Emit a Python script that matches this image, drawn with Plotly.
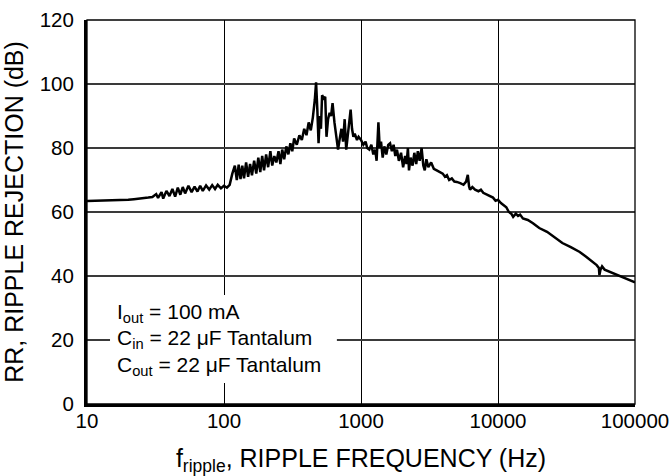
import plotly.graph_objects as go

# Ripple frequency (Hz) and ripple rejection (dB)
freq = [10, 12, 14, 16, 18, 20, 22, 24, 26, 28, 30, 32, 33, 35, 36, 38, 40, 42, 44, 46, 48,
        50, 52, 55, 58, 61, 64, 67, 70, 74, 78, 82, 86, 90, 95, 100, 105, 110, 115, 120,
        124, 128, 132, 136, 140, 145, 150, 155, 160, 166, 172, 178, 184, 190, 196, 203,
        210, 218, 225, 233, 241, 250, 258, 266, 275, 285, 295, 305, 315, 325, 340, 355,
        370, 385, 400, 415, 430, 445, 460, 470, 480, 490, 500, 510, 520, 535, 548, 560,
        575, 590, 605, 620, 640, 660, 680, 700, 720, 740, 760, 780, 800, 820, 840, 860,
        880, 900, 935, 960, 1000, 1040, 1080, 1110, 1150, 1190, 1230, 1270, 1300, 1340,
        1370, 1400, 1440, 1480, 1530, 1580, 1630, 1680, 1730, 1780, 1830, 1890, 1960,
        2030, 2100, 2150, 2200, 2240, 2300, 2380, 2450, 2530, 2600, 2680, 2770, 2850,
        2920, 3000, 3100, 3250, 3400, 3570, 3750, 3950, 4100, 4240, 4400, 4600, 4800,
        5000, 5300, 5600, 5850, 6020, 6150, 6250, 6500, 6800, 7200, 7500, 7800, 8200,
        8700, 9200, 9600, 10000, 10500, 11000, 11500, 12000, 12500, 12900, 13500, 14000,
        14500, 15200, 16000, 16500, 18000, 20000, 22800, 25000, 29500, 34000, 39500,
        44000, 48000, 52500, 54500, 55000, 56000, 57500, 60000, 64000, 69500, 80000,
        90000, 100000]
rr_db = [63.4, 63.5, 63.4, 63.6, 63.7, 63.8, 64.0, 64.1, 64.3, 64.5, 64.7, 65.6, 64.4, 66.2,
         64.2, 66.6, 65.0, 67.2, 64.8, 67.6, 65.4, 67.8, 65.8, 68.2, 66.2, 67.9, 66.4, 68.2,
         66.6, 68.3, 67.0, 68.4, 67.2, 68.5, 67.4, 68.2, 67.6, 68.5, 72.0, 74.5, 70.0, 74.8,
         70.3, 74.5, 70.5, 75.5, 71.0, 75.0, 71.5, 76.0, 72.0, 77.0, 72.5, 77.5, 73.0, 78.0,
         74.0, 79.0, 74.5, 77.5, 75.5, 79.0, 75.0, 79.5, 76.5, 80.5, 78.0, 81.5, 79.0, 83.0,
         81.0, 84.0, 82.5, 86.0, 84.0, 88.0, 85.5, 89.5, 95.0, 100.5, 92.0, 81.5, 90.0, 86.0,
         96.5, 95.5, 96.0, 83.5, 89.0, 91.0, 90.0, 94.0, 88.0, 84.0, 79.5, 83.0, 86.0, 82.0,
         89.0, 79.5, 84.0, 87.0, 92.0, 86.0, 83.5, 84.5, 82.5, 83.5, 82.5, 81.0, 82.0, 80.0,
         79.5, 81.0, 78.0, 79.5, 76.0, 88.0, 80.0, 82.0, 77.0, 80.5, 78.0, 81.0, 81.5, 79.0,
         81.0, 77.5, 79.5, 76.0, 78.5, 74.0, 77.5, 75.0, 80.0, 73.0, 77.0, 74.5, 78.5, 75.0,
         79.0, 76.0, 80.0, 74.5, 73.0, 76.5, 74.0, 75.5, 73.5, 73.0, 72.5, 72.0, 71.0, 71.5,
         70.0, 70.5, 69.5, 69.4, 69.0, 68.5, 69.5, 71.6, 68.0, 67.0, 67.8, 67.0, 66.5, 67.0,
         66.0, 65.5, 65.0, 64.5, 63.5, 63.8, 62.8, 62.0, 61.5, 60.0, 59.5, 58.5, 59.5, 58.8,
         59.2, 58.0, 57.8, 57.5, 56.5, 55.0, 53.8, 52.5, 50.3, 49.0, 47.5, 46.0, 44.8, 43.4,
         42.5, 40.3, 42.0, 43.0, 42.0, 41.5, 41.0, 39.8, 39.0, 38.0]

x_tickvals = [10, 100, 1000, 10000, 100000]
x_ticktext = ["10", "100", "1000", "10000", "100000"]
y_tickvals = [0, 20, 40, 60, 80, 100, 120]

FONT = "Liberation Sans, Arial, Helvetica, sans-serif"
FS = 21

fig = go.Figure()
fig.add_trace(go.Scatter(x=freq, y=rr_db, mode="lines",
                         line=dict(color="black", width=2.5), showlegend=False))

fig.update_layout(
    width=671, height=476,
    margin=dict(l=87, r=36, t=20, b=72, autoexpand=False),
    plot_bgcolor="white", paper_bgcolor="white",
    font=dict(family=FONT, size=FS, color="black"),
    xaxis=dict(type="log", range=[1, 5], tickvals=x_tickvals, ticktext=x_ticktext,
               showgrid=True, gridcolor="black", gridwidth=1.2,
               showline=True, linecolor="black", linewidth=3,
               ticks="", zeroline=False, ticklabelstandoff=-4, automargin=False,
               tickfont=dict(size=20.5),
               title=dict(text="f<sub>ripple</sub>, RIPPLE FREQUENCY (Hz)", standoff=19)),
    yaxis=dict(range=[0, 120], tickvals=y_tickvals,
               showgrid=True, gridcolor="#3a3a3a", gridwidth=1.5,
               showline=True, linecolor="black", linewidth=3,
               ticks="", zeroline=False, ticklabelstandoff=6, automargin=False,
               tickfont=dict(size=20.5),
               title=dict(text="RR, RIPPLE REJECTION (dB)", standoff=11)),
)

# thin frame on top/right
fig.add_shape(type="rect", xref="paper", yref="paper", x0=0, x1=1, y0=0, y1=1,
              line=dict(color="black", width=1.3), layer="above")
# white box behind the condition text
fig.add_shape(type="rect", xref="paper", yref="paper", x0=0.042, x1=0.456, y0=0.055, y1=0.284,
              line=dict(width=0), fillcolor="white", layer="above")

labels = ["I<sub>out</sub> = 100 mA",
          "C<sub>in</sub> = 22 μF Tantalum",
          "C<sub>out</sub> = 22 μF Tantalum"]
ys = [0.237, 0.169, 0.099]
for t, yy in zip(labels, ys):
    fig.add_annotation(text=t, xref="paper", yref="paper", x=0.051, y=yy,
                       xanchor="left", yanchor="middle", showarrow=False,
                       font=dict(family=FONT, size=FS, color="black"))

fig.write_html("out.html", config={"displayModeBar": False},
               post_script="document.body.style.margin='0';")
